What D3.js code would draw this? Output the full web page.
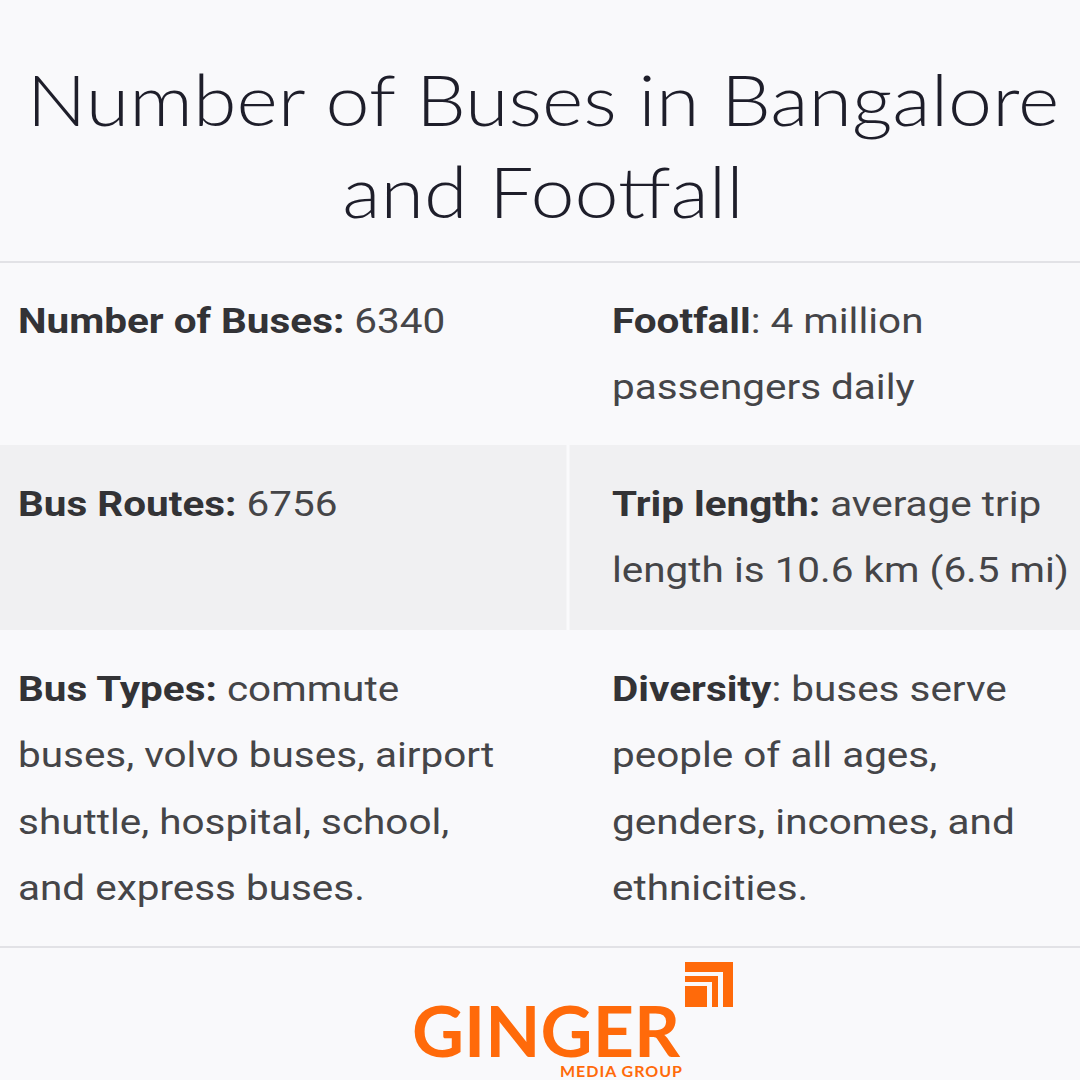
<!DOCTYPE html>
<html><head><meta charset="utf-8">
<script src="https://cdn.jsdelivr.net/npm/d3@7.9.0/dist/d3.min.js"></script>
<style>body{margin:0;background:#f9f9fb}</style></head>
<body><svg id="c" width="1080" height="1080"></svg>
<script>
const titleLines = ["Number of Buses in Bangalore", "and Footfall"];
const rowBounds = [262, 445, 630, 947];
const rowFills = ["#f9f9fb", "#f0f0f2", "#f9f9fb"];
// each cell: label, separator, lines (first line continues after label)
const cells = [
  {row: 0, col: 0, label: "Number of Buses:", sep: " ", lines: ["6340"]},
  {row: 0, col: 1, label: "Footfall", sep: ": ", lines: ["4 million", "passengers daily"]},
  {row: 1, col: 0, label: "Bus Routes:", sep: " ", lines: ["6756"]},
  {row: 1, col: 1, label: "Trip length:", sep: " ", lines: ["average trip", "length is 10.6 km (6.5 mi)"]},
  {row: 2, col: 0, label: "Bus Types:", sep: " ", lines: ["commute", "buses, volvo buses, airport", "shuttle, hospital, school,", "and express buses."]},
  {row: 2, col: 1, label: "Diversity", sep: ": ", lines: ["buses serve", "people of all ages,", "genders, incomes, and", "ethnicities."]}
];

const svg = d3.select("#c");
svg.append("rect").attr("width", 1080).attr("height", 1080).attr("fill", "#f9f9fb");

svg.append("g").attr("transform", "translate(543,0) scale(1.13,1)")
  .selectAll(".title").data(titleLines).enter().append("text")
  .attr("x", 0).attr("y", (d, i) => 126 + i * 92)
  .attr("text-anchor", "middle")
  .attr("font-family", "Lato, sans-serif").attr("font-weight", 300)
  .attr("font-size", 70).attr("fill", "#1e1e2a").text(d => d);

const colX = [18, 612];
svg.selectAll(".rowbg").data(rowFills).enter().append("rect")
  .attr("x", 0).attr("width", 1080)
  .attr("y", (d, i) => rowBounds[i]).attr("height", (d, i) => rowBounds[i + 1] - rowBounds[i])
  .attr("fill", d => d);
svg.selectAll(".hl").data([rowBounds[0], rowBounds[3]]).enter().append("line")
  .attr("x1", 0).attr("x2", 1080).attr("y1", d => d).attr("y2", d => d)
  .attr("stroke", "#e2e2e6").attr("stroke-width", 2);
svg.append("line").attr("x1", 568).attr("x2", 568).attr("y1", rowBounds[1]).attr("y2", rowBounds[2])
  .attr("stroke", "#fafafc").attr("stroke-width", 3);

cells.forEach(c => {
  const t = svg.append("g").attr("transform", `translate(${colX[c.col]},0) scale(1.14,1)`)
    .append("text").attr("font-family", "Roboto, sans-serif").attr("font-size", 35.5)
    .attr("fill", "#454548");
  const y0 = rowBounds[c.row] + 71;
  c.lines.forEach((ln, i) => {
    const ts = t.append("tspan").attr("x", 0).attr("y", y0 + i * 66.5);
    if (i === 0) {
      ts.append("tspan").attr("font-weight", 700).attr("fill", "#333336").text(c.label);
      ts.append("tspan").text(c.sep + ln);
    } else ts.text(ln);
  });
});

// logo
const orange = "#ff6a0a";
svg.append("text").attr("x", 412).attr("y", 1057).attr("font-family", "Lato, sans-serif")
  .attr("font-weight", 700).attr("font-size", 70).attr("fill", orange)
  .attr("textLength", 268).attr("lengthAdjust", "spacingAndGlyphs").text("GINGER");
svg.append("text").attr("x", 682).attr("y", 1077).attr("text-anchor", "end")
  .attr("font-family", "Lato, sans-serif").attr("font-weight", 700).attr("font-size", 16)
  .attr("fill", orange).attr("textLength", 122).text("MEDIA GROUP");
const lg = svg.append("g").attr("fill", orange);
lg.append("rect").attr("x", 685).attr("y", 962).attr("width", 48).attr("height", 10);
lg.append("rect").attr("x", 723).attr("y", 962).attr("width", 10).attr("height", 45);
lg.append("rect").attr("x", 685).attr("y", 976).attr("width", 33).attr("height", 6);
lg.append("rect").attr("x", 712).attr("y", 976).attr("width", 6).attr("height", 31);
lg.append("rect").attr("x", 685).attr("y", 986).attr("width", 22).attr("height", 21);
</script></body></html>
